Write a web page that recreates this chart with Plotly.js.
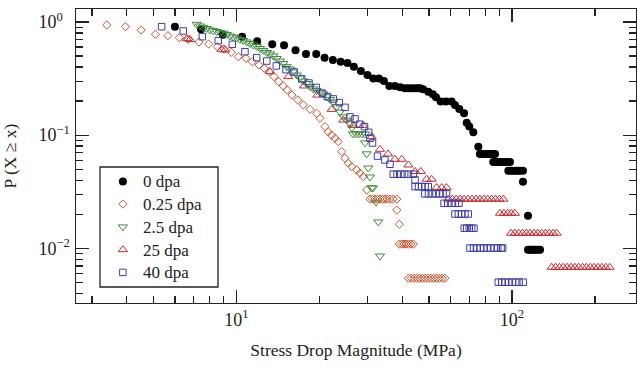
<!DOCTYPE html>
<html>
<head>
<meta charset="utf-8">
<script src="https://cdn.plot.ly/plotly-3.0.1.min.js"></script>
<style>html,body{margin:0;padding:0;background:#fff;}#chart{width:637px;height:369px;}</style>
</head>
<body>
<div id="chart"></div>
<script>
// ---- data ----
const seriesNames = ["0 dpa", "0.25 dpa", "2.5 dpa", "25 dpa", "40 dpa"];

const x0dpa = [5.99,7.45,8.93,10.5,11.9,13.5,14.9,16.4,17.9,19.5,20.9,22.4,23.9,25.3,26.7,28.3,29.9,31.4,32.9,34.3,35.9,37.6,39.3,40.9,
  42.0,43.2,44.5,45.6,46.4,
  47.6,49.7,51.6,53.0,55.1,57.6,60.4,62.1,64.4,67.0,68.5,70.0,72.4,75.5,
  76.5,78.0,79.8,81.5,83.2,85.0,86.8,
  85.5,87.0,89.0,90.5,92.5,94.3,96.3,98.3,
  97.0,99.0,101,103,105,107,109.6,
  109.6,114.3,
  114.3,116,118,120,122,124,126.4];
const y0dpa = [0.909,0.862,0.772,0.742,0.675,0.635,0.623,0.562,0.522,0.522,0.484,0.462,0.446,0.434,0.403,0.369,0.340,0.317,0.317,0.301,0.272,0.272,0.265,0.260,
  0.260,0.260,0.260,0.260,0.260,
  0.254,0.242,0.230,0.216,0.198,0.198,0.198,0.185,0.170,0.156,0.129,0.119,0.106,0.0791,
  0.068,0.068,0.068,0.068,0.068,0.068,0.068,
  0.058,0.058,0.058,0.058,0.058,0.058,0.058,0.058,
  0.0485,0.0485,0.0485,0.0485,0.0485,0.0485,0.0485,
  0.0388,0.0194,
  0.0097,0.0097,0.0097,0.0097,0.0097,0.0097,0.0097];

const x025dpa = [3.39,3.96,4.52,5.09,5.65,6.21,6.70,7.32,7.94,8.53,9.03,9.59,10.17,10.84,11.43,12.09,12.64,13.17,13.70,14.25,14.81,15.31,15.92,16.70,17.50,18.51,19.57,20.12,20.98,21.56,22.18,22.80,23.44,24.12,24.79,25.48,26.22,27.34,28.10,28.88,29.72,
  30.54,31.2,31.84,32.5,33.2,33.9,34.6,35.3,36.1,37.0,38.2,
  38.2,39.0,
  39.0,39.8,40.6,41.3,42.1,43.0,43.9,
  42.1,43.1,44.1,45.2,46.2,47.3,48.4,49.6,50.8,52.0,53.2,54.5,55.8,57.1];
const y025dpa = [0.941,0.909,0.850,0.779,0.757,0.727,0.703,0.666,0.639,0.605,0.577,0.540,0.494,0.478,0.446,0.417,0.390,0.364,0.329,0.297,0.272,0.251,0.226,0.205,0.185,0.169,0.156,0.141,0.119,0.107,0.100,0.0939,0.0876,0.0715,0.0625,0.0564,0.0527,0.0493,0.0461,0.0430,0.0328,
  0.0272,0.0272,0.0272,0.0272,0.0272,0.0272,0.0272,0.0272,0.0272,0.0272,0.0272,
  0.0218,0.0163,
  0.0109,0.0109,0.0109,0.0109,0.0109,0.0109,0.0109,
  0.00544,0.00544,0.00544,0.00544,0.00544,0.00544,0.00544,0.00544,0.00544,0.00544,0.00544,0.00544,0.00544,0.00544];

const x2p5dpa = [7.18,7.38,7.59,7.81,8.03,8.25,8.49,8.73,8.97,9.23,9.49,9.75,10.03,10.31,10.60,10.91,11.21,11.53,11.86,12.19,12.53,12.90,13.25,13.62,14.01,14.40,14.81,15.24,15.66,16.10,16.56,17.02,17.50,18.00,18.51,19.03,19.57,20.12,20.68,21.28,21.87,22.48,23.12,23.77,24.44,25.14,25.84,26.28,
  26.5,27.18,27.86,28.57,29.30,
  29.30,29.72,30.12,30.54,30.94,31.33,32.11,32.73,33.2];
const y2p5dpa = [0.954,0.922,0.891,0.876,0.850,0.838,0.824,0.808,0.795,0.775,0.752,0.737,0.722,0.703,0.686,0.666,0.646,0.626,0.608,0.583,0.560,0.538,0.522,0.501,0.476,0.452,0.430,0.403,0.384,0.362,0.340,0.320,0.301,0.286,0.269,0.256,0.248,0.241,0.231,0.218,0.207,0.196,0.179,0.160,0.145,0.136,0.126,0.116,
  0.1026,0.1026,0.1026,0.1026,0.1026,
  0.0855,0.0684,0.0513,0.0427,0.0342,0.0342,0.0256,0.0171,0.00855];

const x25dpa = [6.61,6.79,8.85,9.10,13.25,15.44,17.61,19.67,22.18,24.44,26.57,28.88,30.98,33.2,35.5,37.6,39.8,42.1,44.5,46.7,49.0,51.1,53.3,55.6,57.9,
  58.8,60.8,62.8,64.9,67.0,69.3,71.6,74.0,76.4,79.0,81.6,84.3,87.1,90.0,93.0,
  90.5,93.5,96.5,99.5,102.5,
  99.2,102.4,105.8,109.2,112.7,116.4,120.2,124.1,128.1,132.3,136.6,141,145.2,
  139.3,143.9,148.6,153.4,158.5,163.7,169,174.6,180.3,186.2,192.3,198.6,205.1,211.8,218.8,226];
const y25dpa = [0.712,0.70,0.574,0.565,0.364,0.329,0.272,0.226,0.169,0.136,0.122,0.122,0.097,0.075,0.0682,0.0612,0.0612,0.0545,0.0478,0.0478,0.0408,0.0408,0.0344,0.0344,0.0344,
  0.0272,0.0272,0.0272,0.0272,0.0272,0.0272,0.0272,0.0272,0.0272,0.0272,0.0272,0.0272,0.0272,0.0272,0.0272,
  0.0204,0.0204,0.0204,0.0204,0.0204,
  0.0136,0.0136,0.0136,0.0136,0.0136,0.0136,0.0136,0.0136,0.0136,0.0136,0.0136,0.0136,0.0136,
  0.0068,0.0068,0.0068,0.0068,0.0068,0.0068,0.0068,0.0068,0.0068,0.0068,0.0068,0.0068,0.0068,0.0068,0.0068,0.0068];

const x40dpa = [5.36,6.42,7.53,8.60,9.67,10.75,11.86,12.90,13.97,15.15,16.19,17.27,18.35,19.51,20.54,21.38,22.48,23.64,24.79,25.84,26.95,28.03,29.17,30.21,30.54,31.19,32.52,34.6,36.1,
  37.1,38.3,39.5,40.8,42.1,43.9,
  44.5,
  44.5,45.8,47.1,48.4,49.7,
  48.3,49.8,51.4,53.0,54.6,56.2,57.9,
  56.7,58.5,60.4,62.3,64.2,
  62.1,63.9,65.7,67.5,69.4,
  67.1,68.5,70.0,71.4,72.8,
  70.4,72.5,74.6,76.8,79.0,81.3,83.7,86.2,88.7,91.3,92.5,
  89.2,91.8,94.5,97.3,100.2,103.1,106.1,109.9];
const y40dpa = [0.909,0.833,0.742,0.684,0.635,0.546,0.484,0.452,0.409,0.379,0.362,0.314,0.289,0.264,0.234,0.219,0.209,0.194,0.176,0.145,0.139,0.125,0.119,0.106,0.0939,0.0853,0.0653,0.0604,0.0553,
  0.0452,0.0452,0.0452,0.0452,0.0452,0.0452,
  0.0402,
  0.0351,0.0351,0.0351,0.0351,0.0351,
  0.0303,0.0303,0.0303,0.0303,0.0303,0.0303,0.0303,
  0.025,0.025,0.025,0.025,0.025,
  0.0201,0.0201,0.0201,0.0201,0.0201,
  0.01505,0.01505,0.01505,0.01505,0.01505,
  0.01005,0.01005,0.01005,0.01005,0.01005,0.01005,0.01005,0.01005,0.01005,0.01005,0.01005,
  0.00502,0.00502,0.00502,0.00502,0.00502,0.00502,0.00502,0.00502];

const xTickVals = [10, 100];
const xTickText = ["10<sup>1</sup>", "10<sup>2</sup>"];
const xMinorVals = [3,4,5,6,7,8,9,20,30,40,50,60,70,80,90,200];
const yTickVals = [0.01, 0.1, 1];
const yTickText = ["10<sup>\u22122</sup>", "10<sup>\u22121</sup>", "10<sup>0</sup>"];
const yMinorVals = [0.004,0.005,0.006,0.007,0.008,0.009,0.02,0.03,0.04,0.05,0.06,0.07,0.08,0.09,0.2,0.3,0.4,0.5,0.6,0.7,0.8,0.9];

// ---- styling ----
const FONT = "Liberation Serif, Times New Roman, serif";
const AX = "#222222";

function legendLabel(name) {
  return '<span style="font-size:17px">' + name + '</span>';
}

function openTrace(x, y, name, symbol, color, size) {
  return {x: x, y: y, name: legendLabel(name), type: "scatter", mode: "markers",
    marker: {symbol: symbol, size: size, color: color, line: {color: color, width: 1}}};
}

const traces = [
  {x: x0dpa, y: y0dpa, name: legendLabel(seriesNames[0]), type: "scatter", mode: "markers",
   marker: {symbol: "circle", size: 8, color: "#000000", line: {width: 0}}},
  openTrace(x025dpa, y025dpa, seriesNames[1], "diamond-open", "#c9532c", 6.3),
  openTrace(x2p5dpa, y2p5dpa, seriesNames[2], "triangle-down-open", "#3d8b37", 8),
  openTrace(x25dpa, y25dpa, seriesNames[3], "triangle-up-open", "#c8282d", 8),
  openTrace(x40dpa, y40dpa, seriesNames[4], "square-open", "#3c3caa", 6.5)
];

const axisCommon = {
  type: "log", showline: true, linecolor: AX, linewidth: 1.3, mirror: "allticks",
  ticks: "inside", ticklen: 13, tickwidth: 1.3, tickcolor: AX,
  showgrid: false, zeroline: false, tickmode: "array",
  tickfont: {family: FONT, size: 18, color: AX}
};

const layout = {
  width: 637, height: 369,
  margin: {l: 76, r: 1, t: 9, b: 66},
  paper_bgcolor: "#ffffff", plot_bgcolor: "#ffffff",
  font: {family: FONT, size: 17, color: AX},
  showlegend: true,
  legend: {x: 0.048, y: 0.4694, xanchor: "left", yanchor: "top",
    borderwidth: 0, bgcolor: "rgba(255,255,255,0)",
    font: {family: FONT, size: 15.2, color: AX}},
  shapes: [{type: "rect", xref: "paper", yref: "paper",
    x0: 0.04286, x1: 0.2536, y0: 0.0544, y1: 0.4626,
    line: {color: AX, width: 1.3}, fillcolor: "rgba(255,255,255,0)", layer: "above"}],
  xaxis: Object.assign({}, axisCommon, {
    range: [0.4186, 2.4498], tickvals: xTickVals, ticktext: xTickText,
    minor: {ticks: "inside", ticklen: 7, tickwidth: 1.3, tickcolor: AX, tickmode: "array", tickvals: xMinorVals, showgrid: false},
    title: {text: "Stress Drop Magnitude (MPa)", font: {family: FONT, size: 17.5, color: AX}, standoff: 14}
  }),
  yaxis: Object.assign({}, axisCommon, {
    range: [-2.4832, 0.1148], tickvals: yTickVals, ticktext: yTickText,
    ticklabelposition: "inside", ticklabelstandoff: -50,
    minor: {ticks: "inside", ticklen: 7, tickwidth: 1.3, tickcolor: AX, tickmode: "array", tickvals: yMinorVals, showgrid: false},
    title: {text: "P (X \u2265 x)", font: {family: FONT, size: 17.5, color: AX}, standoff: 20}
  })
};

Plotly.newPlot("chart", traces, layout, {displayModeBar: false, staticPlot: true});
</script>
</body>
</html>
